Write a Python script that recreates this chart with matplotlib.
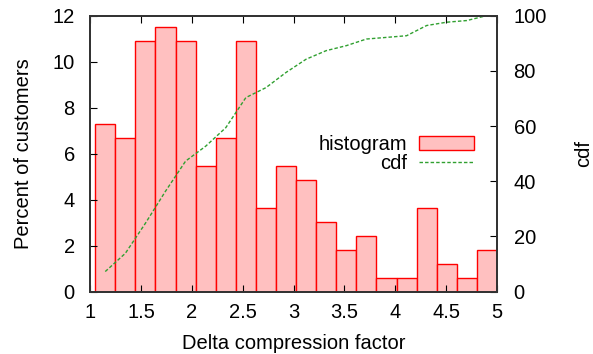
import numpy as np
import matplotlib.pyplot as plt

plt.rcParams['font.family'] = ['Liberation Sans', 'DejaVu Sans']

# histogram bins (left edges), last edge closes the range
bin_edges = [1.05, 1.2475, 1.445, 1.6425, 1.84, 2.0375, 2.235, 2.4325, 2.63, 2.8275,
             3.025, 3.2225, 3.42, 3.6175, 3.815, 4.0125, 4.21, 4.4075, 4.605, 4.8025, 5.0]
percent = [7.27, 6.67, 10.9, 11.5, 10.9, 5.45, 6.67, 10.9, 3.64, 5.45,
           4.85, 3.03, 1.82, 2.42, 0.61, 0.61, 3.64, 1.21, 0.61, 1.82]

# cdf read at bin centres
cdf_vals = [7.3, 13.9, 24.8, 36.4, 47.3, 52.7, 59.4, 70.3, 73.9, 79.4,
            84.2, 87.3, 89.1, 91.5, 92.1, 92.7, 96.4, 97.6, 98.2, 100.0]

edges = np.array(bin_edges)
lefts = edges[:-1]
widths = np.diff(edges)
centers = lefts + widths / 2

fs = 14.5

fig = plt.figure(figsize=(5.93, 3.54), dpi=100)
ax = fig.add_axes([0.152, 0.176, 0.686, 0.780])
ax2 = ax.twinx()

ax.bar(lefts, percent, width=widths, align='edge', facecolor='#ffc0c0',
       edgecolor='#ff0000', linewidth=1.0, label='histogram')
ax2.plot(centers, cdf_vals, color='#30a030', linestyle=(0, (2.5, 1.5)),
         linewidth=1.0, label='cdf')

ax.set_xlim(1, 5)
ax.set_ylim(0, 12)
ax2.set_ylim(0, 100)
ax.set_xticks([1, 1.5, 2, 2.5, 3, 3.5, 4, 4.5, 5])
ax.set_xticklabels(['1', '1.5', '2', '2.5', '3', '3.5', '4', '4.5', '5'])
ax.set_yticks(range(0, 13, 2))
ax2.set_yticks(range(0, 101, 20))

ax.tick_params(axis='x', direction='in', top=True, labelsize=fs, length=5, pad=8)
ax.tick_params(axis='y', direction='in', labelsize=fs, length=5, pad=11)
ax2.tick_params(axis='y', direction='in', labelsize=fs, length=5, pad=12)

for a in (ax, ax2):
    for s in a.spines.values():
        s.set_linewidth(1.3)
        s.set_color('#333333')

ax.set_xlabel('Delta compression factor', fontsize=fs, labelpad=9)
ax.set_ylabel('Percent of customers', fontsize=fs, labelpad=14)
ax2.set_ylabel('cdf', fontsize=fs)
ax2.yaxis.set_label_coords(1.19, 0.5)

h1, l1 = ax.get_legend_handles_labels()
h2, l2 = ax2.get_legend_handles_labels()
ax2.legend(h1 + h2, l1 + l2, loc='center right', bbox_to_anchor=(0.943, 0.50),
           frameon=False, markerfirst=False, fontsize=fs, handlelength=2.7,
           handletextpad=0.6, labelspacing=0.0, borderpad=0, borderaxespad=0)

fig.savefig('out.png', dpi=100)
